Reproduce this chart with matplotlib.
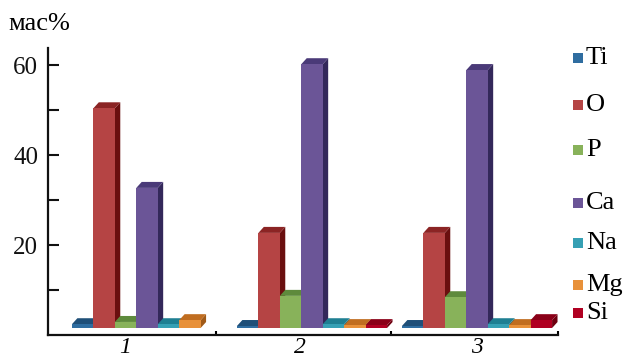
import numpy as np
import matplotlib.pyplot as plt
from matplotlib.patches import Polygon, Rectangle

# data (axis reading at the front top of each bar)
samples = ['1', '2', '3']
elements = ['Ti', 'O', 'P', 'Ca', 'Na', 'Mg', 'Si']
ti = [2.4, 2.0, 2.0]
o = [50.4, 22.7, 22.7]
p = [2.9, 8.7, 8.4]
ca = [32.7, 60.2, 58.9]
na = [2.4, 2.4, 2.4]
mg = [3.3, 2.2, 2.2]
si = [0.0, 2.2, 3.3]
series = [ti, o, p, ca, na, mg, si]

# (front, top, side) colours per element
colors = [
    ('#2f6da0', '#1f4f78', '#183f62'),
    ('#b54444', '#8b2424', '#6a0f0f'),
    ('#88b25a', '#5e8a3c', '#4c7330'),
    ('#6b5597', '#4a3a78', '#33285a'),
    ('#36a0b4', '#1f7f92', '#176c7c'),
    ('#e8913a', '#c06d20', '#a05a18'),
    ('#b00022', '#8a0018', '#6e0010'),
]

plt.rcParams['font.family'] = ['Liberation Serif', 'DejaVu Serif']

fig = plt.figure(figsize=(6.29, 3.61), dpi=100)
ax = fig.add_axes([48 / 629, 26 / 361, 510 / 629, 287 / 361])

bar_w = 0.13
floor = 1.55
dx, dy = 0.033, 1.33  # fake depth


def bar3d(x, top, cols):
    front = Rectangle((x, floor), bar_w, top - floor, fc=cols[0], lw=0)
    lid = Polygon([(x, top), (x + bar_w, top), (x + bar_w + dx, top + dy),
                   (x + dx, top + dy)], closed=True, fc=cols[1], lw=0)
    side = Polygon([(x + bar_w, floor), (x + bar_w + dx, floor + dy),
                    (x + bar_w + dx, top + dy), (x + bar_w, top)],
                   closed=True, fc=cols[2], lw=0)
    for patch in (side, lid, front):
        ax.add_patch(patch)


group_x = np.arange(len(samples))
for g in group_x:
    for i, vals in enumerate(series):
        v = vals[g]
        if v <= floor:
            continue
        left = g + (i - len(series) / 2) * bar_w
        bar3d(left, v, colors[i])

ax.set_xlim(-0.6, -0.6 + 510 / 165)
ax.set_ylim(0, 63.8)

for side in ('top', 'right'):
    ax.spines[side].set_visible(False)
for side in ('left', 'bottom'):
    ax.spines[side].set_linewidth(1.6)
    ax.spines[side].set_color('#111111')

ax.set_yticks([20, 40, 60])
ax.set_yticks([10, 30, 50], minor=True)
ax.tick_params(axis='y', which='both', direction='in', length=8, width=1.5,
               labelsize=18, pad=7, colors='#111111')

ax.set_xticks([-0.133, 0.927, 2.0])
ax.set_xticklabels(samples, fontstyle='italic', fontsize=17)
ax.set_xticks([0.418, 1.479, 2.49], minor=True)
ax.tick_params(axis='x', which='major', length=0, pad=1.5)
ax.tick_params(axis='x', which='minor', direction='in', length=3, width=1.5)

fig.text(8 / 629, 1 - 24 / 361, 'мас%', fontsize=19, va='center', ha='left')

# legend drawn by hand to follow the uneven spacing
legend_y = [58, 105, 150, 203, 243, 285, 313]
for name, cols, ypix in zip(elements, colors, legend_y):
    fig.patches.append(Rectangle((573 / 629, 1 - (ypix + 5) / 361), 10 / 629, 10 / 361,
                                 transform=fig.transFigure, fc=cols[0], lw=0))
    fig.text(586 / 629, 1 - ypix / 361, name, fontsize=19, va='center', ha='left')

fig.savefig('out.png', dpi=100)
